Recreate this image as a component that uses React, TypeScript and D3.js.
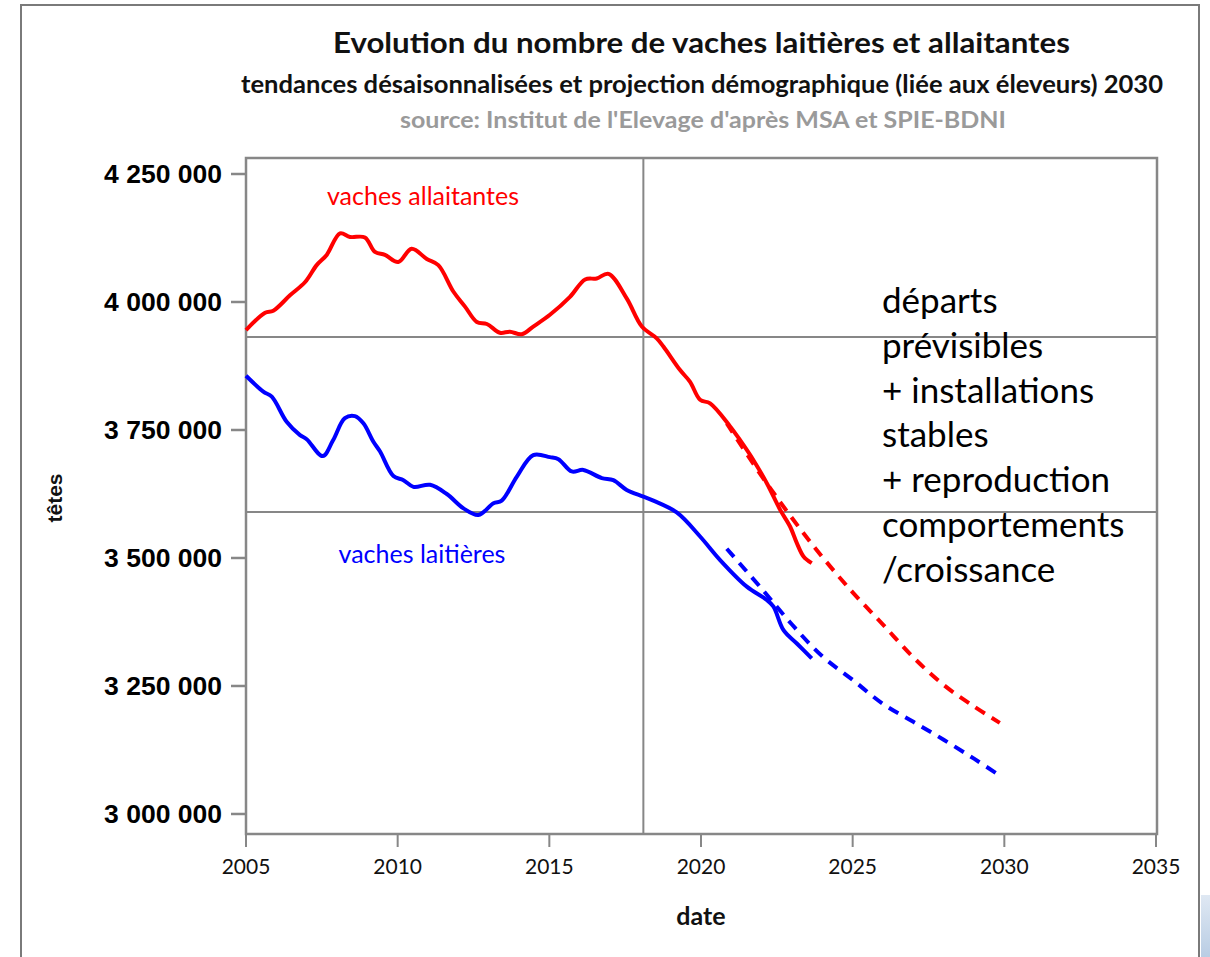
import * as d3 from 'd3'

const W = 1210
const H = 957
const PLOT = { left: 246, right: 1157, top: 158, bottom: 834 }

// series: [year, number of cows]
const ALLAITANTES: [number, number][] = [
  [2005.0, 3945000], [2005.63, 3979000], [2005.9, 3983000], [2006.45, 4013000],
  [2006.95, 4039000], [2007.33, 4072000], [2007.66, 4092000], [2008.1, 4134000],
  [2008.43, 4127000], [2008.92, 4126000], [2009.25, 4098000], [2009.58, 4092000],
  [2010.02, 4078000], [2010.46, 4104000], [2010.96, 4084000], [2011.34, 4072000],
  [2011.84, 4020000], [2012.22, 3991000], [2012.61, 3961000], [2012.94, 3957000],
  [2013.37, 3940000], [2013.7, 3942000], [2014.09, 3937000], [2014.47, 3952000],
  [2015.02, 3975000], [2015.68, 4010000], [2016.18, 4044000], [2016.56, 4046000],
  [2016.95, 4055000], [2017.55, 4007000], [2018.05, 3952000], [2018.54, 3929000],
  [2018.76, 3913000], [2019.31, 3867000], [2019.64, 3844000], [2019.97, 3809000],
  [2020.3, 3802000], [2020.96, 3757000], [2021.29, 3730000], [2021.73, 3691000],
  [2022.17, 3646000], [2022.61, 3594000], [2022.94, 3561000], [2023.16, 3529000],
  [2023.38, 3503000], [2023.65, 3490000],
]

const LAITIERES: [number, number][] = [
  [2005.0, 3856000], [2005.57, 3825000], [2005.85, 3815000], [2006.34, 3766000],
  [2006.78, 3740000], [2007.0, 3732000], [2007.53, 3699000], [2007.87, 3730000],
  [2008.26, 3773000], [2008.59, 3777000], [2008.87, 3763000], [2009.2, 3727000],
  [2009.42, 3708000], [2009.86, 3660000], [2010.19, 3652000], [2010.52, 3639000],
  [2011.07, 3643000], [2011.62, 3625000], [2012.17, 3597000], [2012.66, 3584000],
  [2013.16, 3607000], [2013.43, 3612000], [2013.93, 3659000], [2014.47, 3701000],
  [2015.02, 3697000], [2015.3, 3693000], [2015.74, 3669000], [2016.12, 3672000],
  [2016.73, 3656000], [2017.11, 3652000], [2017.55, 3633000], [2018.1, 3620000],
  [2018.43, 3612000], [2019.2, 3589000], [2019.97, 3542000], [2020.63, 3496000],
  [2021.51, 3444000], [2022.17, 3418000], [2022.39, 3405000], [2022.72, 3359000],
  [2023.16, 3333000], [2023.65, 3304000],
]

const PROJ_ALLAITANTES: [number, number][] = [
  [2020.85, 3763000], [2022, 3660000], [2023, 3578000], [2024, 3502000],
  [2025, 3433000], [2026, 3370000], [2027, 3306000], [2028, 3252000],
  [2029, 3210000], [2029.85, 3178000],
]

const PROJ_LAITIERES: [number, number][] = [
  [2020.85, 3518000], [2022, 3440000], [2023, 3370000], [2024, 3308000],
  [2025, 3262000], [2026, 3215000], [2027, 3180000], [2028, 3145000],
  [2029, 3108000], [2029.85, 3075000],
]

const X_TICKS = [2005, 2010, 2015, 2020, 2025, 2030, 2035]
const Y_TICKS = [3000000, 3250000, 3500000, 3750000, 4000000, 4250000]
const REF_YEAR = 2018.1
const REF_VALUES = [3931600, 3589800]
const NOTE_LINES = [
  'départs',
  'prévisibles',
  '+ installations',
  'stables',
  '+ reproduction',
  'comportements',
  '/croissance',
]

const fmt = d3.formatLocale({ decimal: ',', thousands: ' ', grouping: [3], currency: ['', ''] }).format(',')

const x = d3.scaleLinear().domain([2005, 2035]).range([PLOT.left, PLOT.right - 1])
const y = d3.scaleLinear().domain([2960900, 4281250]).range([PLOT.bottom, PLOT.top])

const line = d3
  .line<[number, number]>()
  .x((d) => x(d[0]))
  .y((d) => y(d[1]))
  .curve(d3.curveCatmullRom.alpha(0.5))

const GRAY = '#878787'
const CAL = 'Lato, "Open Sans", sans-serif'

export default function App() {
  return (
    <svg
      width={W}
      height={H}
      viewBox={`0 0 ${W} ${H}`}
      style={{ position: 'absolute', left: 0, top: 0, background: '#fff' }}
    >
      <defs>
        <linearGradient id="corner" x1="0" x2="0" y1="0" y2="1">
          <stop offset="0%" stopColor="#dfe8f3" />
          <stop offset="100%" stopColor="#b9cde4" />
        </linearGradient>
      </defs>
      <rect x={0} y={0} width={W} height={H} fill="#fff" />
      <rect x={1201} y={895} width={9} height={62} fill="url(#corner)" />
      <path d={`M21,${H} V5 H1199 V${H}`} fill="none" stroke="#7a7a7a" strokeWidth={2} />

      <text
        x={701.5}
        y={53}
        textAnchor="middle"
        fontFamily={CAL}
        fontWeight="bold"
        fontSize={29}
        fill="#111"
        textLength={737}
        lengthAdjust="spacingAndGlyphs"
      >
        Evolution du nombre de vaches laitières et allaitantes
      </text>
      <text
        x={702}
        y={93}
        textAnchor="middle"
        fontFamily={CAL}
        fontWeight="bold"
        fontSize={24}
        fill="#111"
        textLength={922}
        lengthAdjust="spacingAndGlyphs"
      >
        tendances désaisonnalisées et projection démographique (liée aux éleveurs) 2030
      </text>
      <text
        x={703}
        y={128}
        textAnchor="middle"
        fontFamily={CAL}
        fontWeight="bold"
        fontSize={23.5}
        fill="#9a9a9a"
        textLength={606}
        lengthAdjust="spacingAndGlyphs"
      >
        source: Institut de l'Elevage d'après MSA et SPIE-BDNI
      </text>

      {/* reference lines */}
      {REF_VALUES.map((v) => (
        <line key={v} x1={PLOT.left} x2={PLOT.right} y1={y(v)} y2={y(v)} stroke={GRAY} strokeWidth={2} />
      ))}
      <line x1={x(REF_YEAR)} x2={x(REF_YEAR)} y1={PLOT.top} y2={PLOT.bottom} stroke={GRAY} strokeWidth={2} />

      {/* frame */}
      <rect
        x={PLOT.left}
        y={PLOT.top}
        width={PLOT.right - PLOT.left}
        height={PLOT.bottom - PLOT.top}
        fill="none"
        stroke={GRAY}
        strokeWidth={2.5}
      />

      {/* y axis */}
      {Y_TICKS.map((t) => (
        <g key={t}>
          <line x1={PLOT.left - 15} x2={PLOT.left} y1={y(t)} y2={y(t)} stroke={GRAY} strokeWidth={2.5} />
          <text
            x={PLOT.left - 24}
            y={y(t) + 9}
            textAnchor="end"
            fontFamily='"Liberation Sans", Arial, sans-serif'
            fontWeight="bold"
            fontSize={26.5}
            fill="#000"
          >
            {fmt(t)}
          </text>
        </g>
      ))}
      <text
        transform={`translate(62 498) rotate(-90)`}
        textAnchor="middle"
        fontFamily='"Liberation Sans", Arial, sans-serif'
        fontWeight="bold"
        fontSize={21}
        fill="#111"
      >
        têtes
      </text>

      {/* x axis */}
      {X_TICKS.map((t) => (
        <g key={t}>
          <line x1={x(t)} x2={x(t)} y1={PLOT.bottom} y2={PLOT.bottom + 13} stroke={GRAY} strokeWidth={2} />
          <text x={x(t)} y={874} textAnchor="middle" fontFamily={CAL} fontSize={21} fill="#111">
            {t}
          </text>
        </g>
      ))}
      <text x={701} y={925} textAnchor="middle" fontFamily={CAL} fontWeight="bold" fontSize={25} fill="#111">
        date
      </text>

      {/* series */}
      <path d={line(PROJ_ALLAITANTES) ?? undefined} fill="none" stroke="#ff0000" strokeWidth={4} strokeDasharray="11 8" />
      <path d={line(PROJ_LAITIERES) ?? undefined} fill="none" stroke="#0000ff" strokeWidth={4} strokeDasharray="11 8" />
      <path d={line(ALLAITANTES) ?? undefined} fill="none" stroke="#ff0000" strokeWidth={4} strokeLinejoin="round" />
      <path d={line(LAITIERES) ?? undefined} fill="none" stroke="#0000ff" strokeWidth={4} strokeLinejoin="round" />

      <text x={423} y={205} textAnchor="middle" fontFamily={CAL} fontSize={25} fill="#ff0000">
        vaches allaitantes
      </text>
      <text x={422} y={563} textAnchor="middle" fontFamily={CAL} fontSize={25} fill="#0000ff">
        vaches laitières
      </text>

      <text x={882} y={313} fontFamily={CAL} fontSize={35} fill="#000">
        {NOTE_LINES.map((l, i) => (
          <tspan key={l} x={882} dy={i === 0 ? 0 : 44.8}>
            {l}
          </tspan>
        ))}
      </text>
    </svg>
  )
}
